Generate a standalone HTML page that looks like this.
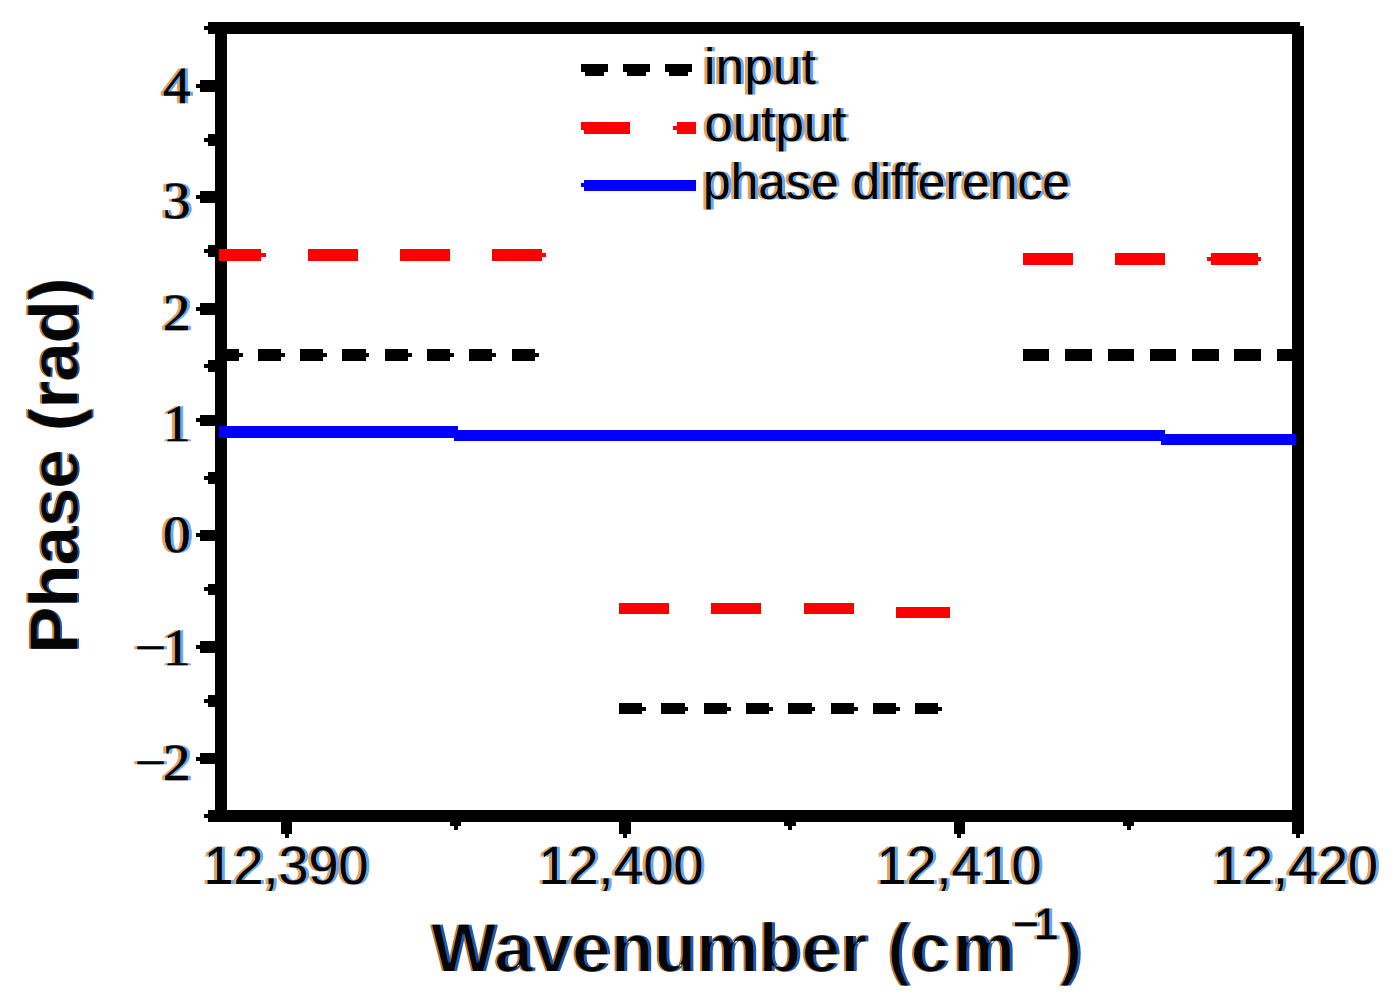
<!DOCTYPE html>
<html><head><meta charset="utf-8"><title>Phase plot</title>
<style>
html,body{margin:0;padding:0;background:#fff;}
body{width:1400px;height:1007px;overflow:hidden;position:relative;}
svg{position:absolute;left:0;top:0;display:block;}
.sans{font-family:"Liberation Sans",Arial,sans-serif;}
.serif{font-family:"Liberation Serif","Times New Roman",serif;}
</style></head><body>
<svg width="1400" height="1007" viewBox="0 0 1400 1007" shape-rendering="crispEdges">
<rect x="0" y="0" width="1400" height="1007" fill="#ffffff"/>
<defs>
<filter id="ct" x="-15%" y="-15%" width="130%" height="130%" color-interpolation-filters="sRGB">
<feFlood flood-color="#e9a050" result="o"/><feComposite in="o" in2="SourceAlpha" operator="in" result="oa"/><feOffset in="oa" dx="-3" dy="0" result="oo"/>
<feFlood flood-color="#5aa8ff" result="b"/><feComposite in="b" in2="SourceAlpha" operator="in" result="ba"/><feOffset in="ba" dx="3" dy="0" result="bo"/>
<feMerge><feMergeNode in="oo"/><feMergeNode in="bo"/><feMergeNode in="SourceGraphic"/></feMerge>
</filter>
<filter id="ctb" x="-15%" y="-15%" width="130%" height="130%" color-interpolation-filters="sRGB">
<feMorphology in="SourceGraphic" operator="erode" radius="1 1" result="e"/>
<feFlood flood-color="#c87818" result="o"/><feComposite in="o" in2="e" operator="in" result="oa"/><feOffset in="oa" dx="-2.5" dy="0" result="oo"/>
<feFlood flood-color="#1858b8" result="b"/><feComposite in="b" in2="e" operator="in" result="ba"/><feOffset in="ba" dx="2.5" dy="0" result="bo"/>
<feMerge><feMergeNode in="oo"/><feMergeNode in="bo"/><feMergeNode in="e"/></feMerge>
</filter>
<filter id="ctr" x="-15%" y="-15%" width="130%" height="130%" color-interpolation-filters="sRGB">
<feMorphology in="SourceGraphic" operator="erode" radius="1 0" result="e"/>
<feFlood flood-color="#c87818" result="o"/><feComposite in="o" in2="e" operator="in" result="oa"/><feOffset in="oa" dx="-2" dy="0" result="oo"/>
<feFlood flood-color="#1858b8" result="b"/><feComposite in="b" in2="e" operator="in" result="ba"/><feOffset in="ba" dx="2" dy="0" result="bo"/>
<feMerge><feMergeNode in="oo"/><feMergeNode in="bo"/><feMergeNode in="e"/></feMerge>
</filter>
</defs>
<g id="frame">
<rect x="208" y="22" width="1092" height="12" fill="#000"/>
<rect x="204" y="26" width="4" height="4" fill="#000"/>
<rect x="208" y="810" width="1096" height="12" fill="#000"/>
<rect x="204" y="814" width="4" height="4" fill="#000"/>
<rect x="215" y="22" width="12" height="800" fill="#000"/>
<rect x="1292" y="26" width="12" height="808" fill="#000"/>
<rect x="1296" y="834" width="4" height="3.5" fill="#000"/>
</g>
<g id="yticks">
<rect x="200" y="80" width="15" height="11.5" fill="#000"/>
<rect x="196" y="83.75" width="4" height="4" fill="#000"/>
<rect x="200" y="191.4" width="15" height="11.5" fill="#000"/>
<rect x="196" y="195.15" width="4" height="4" fill="#000"/>
<rect x="200" y="303.05" width="15" height="11.5" fill="#000"/>
<rect x="196" y="306.8" width="4" height="4" fill="#000"/>
<rect x="200" y="414.55" width="15" height="11.5" fill="#000"/>
<rect x="196" y="418.3" width="4" height="4" fill="#000"/>
<rect x="200" y="529.55" width="15" height="11.5" fill="#000"/>
<rect x="196" y="533.3" width="4" height="4" fill="#000"/>
<rect x="200" y="641.45" width="15" height="11.5" fill="#000"/>
<rect x="196" y="645.2" width="4" height="4" fill="#000"/>
<rect x="200" y="752.95" width="15" height="11.5" fill="#000"/>
<rect x="196" y="756.7" width="4" height="4" fill="#000"/>
<rect x="208" y="134.05" width="7" height="11.5" fill="#000"/>
<rect x="204" y="137.8" width="4" height="4" fill="#000"/>
<rect x="208" y="245.15" width="7" height="11.5" fill="#000"/>
<rect x="204" y="248.9" width="4" height="4" fill="#000"/>
<rect x="208" y="360.45" width="7" height="11.5" fill="#000"/>
<rect x="204" y="364.2" width="4" height="4" fill="#000"/>
<rect x="208" y="472.15" width="7" height="11.5" fill="#000"/>
<rect x="204" y="475.9" width="4" height="4" fill="#000"/>
<rect x="208" y="583.55" width="7" height="11.5" fill="#000"/>
<rect x="204" y="587.3" width="4" height="4" fill="#000"/>
<rect x="208" y="695.15" width="7" height="11.5" fill="#000"/>
<rect x="204" y="698.9" width="4" height="4" fill="#000"/>
</g>
<g id="xticks">
<rect x="280.7" y="822" width="11.6" height="12" fill="#000"/>
<rect x="284.5" y="834" width="4" height="3.5" fill="#000"/>
<rect x="619" y="822" width="11.6" height="12" fill="#000"/>
<rect x="622.8" y="834" width="4" height="3.5" fill="#000"/>
<rect x="953.5" y="822" width="11.6" height="12" fill="#000"/>
<rect x="957.3" y="834" width="4" height="3.5" fill="#000"/>
<rect x="449.7" y="822" width="11.6" height="4" fill="#000"/>
<rect x="453.5" y="826" width="4" height="4" fill="#000"/>
<rect x="784.2" y="822" width="11.6" height="4" fill="#000"/>
<rect x="788" y="826" width="4" height="4" fill="#000"/>
<rect x="1122.7" y="822" width="11.6" height="4" fill="#000"/>
<rect x="1126.5" y="826" width="4" height="4" fill="#000"/>
</g>
<g id="data">
<rect x="219" y="425.7" width="238.7" height="11.8" fill="#0000fe"/>
<rect x="453.7" y="430" width="711.3" height="11.4" fill="#0000fe"/>
<rect x="1161.4" y="433.7" width="134.3" height="11.4" fill="#0000fe"/>
<rect x="219" y="248.8" width="42.4" height="12" fill="#fe0000"/>
<rect x="307.7" y="248.8" width="50" height="12" fill="#fe0000"/>
<rect x="400" y="248.8" width="50" height="12" fill="#fe0000"/>
<rect x="492" y="248.8" width="50.3" height="12" fill="#fe0000"/>
<rect x="261.4" y="252.5" width="4.1" height="4" fill="#fe0000"/>
<rect x="542.3" y="252.5" width="4" height="4" fill="#fe0000"/>
<rect x="619.1" y="602.9" width="50" height="11.4" fill="#fe0000"/>
<rect x="711.4" y="602.9" width="50" height="11.4" fill="#fe0000"/>
<rect x="803.7" y="602.9" width="50" height="11.4" fill="#fe0000"/>
<rect x="895.7" y="606.6" width="54.3" height="11.4" fill="#fe0000"/>
<rect x="1022.9" y="252.9" width="50" height="12" fill="#fe0000"/>
<rect x="1115.1" y="252.9" width="50" height="12" fill="#fe0000"/>
<rect x="1211.4" y="252.9" width="46.3" height="12" fill="#fe0000"/>
<rect x="1207.1" y="256.5" width="4.3" height="4" fill="#fe0000"/>
<rect x="1257.7" y="256.5" width="3.7" height="4" fill="#fe0000"/>
<rect x="227" y="349.1" width="11.6" height="11.5" fill="#000"/>
<rect x="238.6" y="353" width="3.9" height="4" fill="#000"/>
<rect x="257.7" y="349.1" width="23.2" height="11.5" fill="#000"/>
<rect x="280.9" y="353" width="3.8" height="4" fill="#000"/>
<rect x="300" y="349.1" width="23.2" height="11.5" fill="#000"/>
<rect x="323.2" y="353" width="3.8" height="4" fill="#000"/>
<rect x="342.3" y="349.1" width="23.2" height="11.5" fill="#000"/>
<rect x="365.5" y="353" width="3.8" height="4" fill="#000"/>
<rect x="384.6" y="349.1" width="23.2" height="11.5" fill="#000"/>
<rect x="407.8" y="353" width="3.8" height="4" fill="#000"/>
<rect x="426.9" y="349.1" width="23.2" height="11.5" fill="#000"/>
<rect x="450.1" y="353" width="3.8" height="4" fill="#000"/>
<rect x="469.2" y="349.1" width="23.2" height="11.5" fill="#000"/>
<rect x="492.4" y="353" width="3.8" height="4" fill="#000"/>
<rect x="511.5" y="349.1" width="23.2" height="11.5" fill="#000"/>
<rect x="534.7" y="353" width="3.8" height="4" fill="#000"/>
<rect x="619.1" y="702.9" width="23.2" height="11.4" fill="#000"/>
<rect x="642.3" y="706.6" width="3.8" height="4" fill="#000"/>
<rect x="661.4" y="702.9" width="23.2" height="11.4" fill="#000"/>
<rect x="684.6" y="706.6" width="3.8" height="4" fill="#000"/>
<rect x="703.7" y="702.9" width="23.2" height="11.4" fill="#000"/>
<rect x="726.9" y="706.6" width="3.8" height="4" fill="#000"/>
<rect x="746" y="702.9" width="23.2" height="11.4" fill="#000"/>
<rect x="769.2" y="706.6" width="3.8" height="4" fill="#000"/>
<rect x="788.3" y="702.9" width="23.2" height="11.4" fill="#000"/>
<rect x="811.5" y="706.6" width="3.8" height="4" fill="#000"/>
<rect x="830.6" y="702.9" width="23.2" height="11.4" fill="#000"/>
<rect x="853.8" y="706.6" width="3.8" height="4" fill="#000"/>
<rect x="872.9" y="702.9" width="23.2" height="11.4" fill="#000"/>
<rect x="896.1" y="706.6" width="3.8" height="4" fill="#000"/>
<rect x="915.2" y="702.9" width="23.2" height="11.4" fill="#000"/>
<rect x="938.4" y="706.6" width="3.8" height="4" fill="#000"/>
<rect x="1022.9" y="349.1" width="26.5" height="11.5" fill="#000"/>
<rect x="1065.2" y="349.1" width="26.5" height="11.5" fill="#000"/>
<rect x="1107.5" y="349.1" width="26.5" height="11.5" fill="#000"/>
<rect x="1149.8" y="349.1" width="26.5" height="11.5" fill="#000"/>
<rect x="1192.1" y="349.1" width="26.5" height="11.5" fill="#000"/>
<rect x="1234.4" y="349.1" width="26.5" height="11.5" fill="#000"/>
<rect x="1276.6" y="349.1" width="15.4" height="11.5" fill="#000"/>
</g>
<g id="legend">
<rect x="580.6" y="64.4" width="27" height="7.6" fill="#000"/>
<rect x="584.6" y="72" width="19" height="4" fill="#000"/>
<rect x="622.6" y="64.4" width="27" height="7.6" fill="#000"/>
<rect x="626.6" y="72" width="19" height="4" fill="#000"/>
<rect x="665" y="64.4" width="27" height="7.6" fill="#000"/>
<rect x="669" y="72" width="19" height="4" fill="#000"/>
<rect x="580.6" y="122" width="49.8" height="8" fill="#fe0000"/>
<rect x="584.4" y="130" width="46" height="3.6" fill="#fe0000"/>
<rect x="677" y="122" width="19" height="11.6" fill="#fe0000"/>
<rect x="673" y="126" width="4" height="4" fill="#fe0000"/>
<rect x="584.4" y="179.6" width="111.6" height="11.4" fill="#0000fe"/>
<rect x="580.6" y="183" width="3.8" height="4" fill="#0000fe"/>
</g>
<g id="text" fill="#050505" shape-rendering="auto" text-rendering="geometricPrecision">
<g filter="url(#ct)"><text class="sans" x="704" y="83.7" font-size="51" textLength="112" lengthAdjust="spacing">input</text></g>
<g filter="url(#ct)"><text class="sans" x="704.5" y="141.4" font-size="51" textLength="142" lengthAdjust="spacing">output</text></g>
<g filter="url(#ct)"><text class="sans" x="703" y="198.6" font-size="51" textLength="367" lengthAdjust="spacingAndGlyphs">phase difference</text></g>
<g filter="url(#ct)"><text class="serif" transform="translate(190.5,102.9) scale(1.06,1)" x="0" y="0" font-size="52" text-anchor="end" stroke="#050505" stroke-width="0.6">4</text></g>
<g filter="url(#ct)"><text class="serif" transform="translate(190.5,218) scale(1.06,1)" x="0" y="0" font-size="52" text-anchor="end" stroke="#050505" stroke-width="0.6">3</text></g>
<g filter="url(#ct)"><text class="serif" transform="translate(190.5,330) scale(1.06,1)" x="0" y="0" font-size="52" text-anchor="end" stroke="#050505" stroke-width="0.6">2</text></g>
<g filter="url(#ct)"><text class="serif" transform="translate(190.5,441.4) scale(1.06,1)" x="0" y="0" font-size="52" text-anchor="end" stroke="#050505" stroke-width="0.6">1</text></g>
<g filter="url(#ct)"><text class="serif" transform="translate(190.5,552.2) scale(1.06,1)" x="0" y="0" font-size="52" text-anchor="end" stroke="#050505" stroke-width="0.6">0</text></g>
<g filter="url(#ct)"><text class="serif" transform="translate(190.5,664.7) scale(1.06,1)" x="0" y="0" font-size="52" text-anchor="end" stroke="#050505" stroke-width="0.6">−<tspan dx="-3">1</tspan></text></g>
<g filter="url(#ct)"><text class="serif" transform="translate(190.5,779.7) scale(1.06,1)" x="0" y="0" font-size="52" text-anchor="end" stroke="#050505" stroke-width="0.6">−<tspan dx="-3">2</tspan></text></g>
<g filter="url(#ct)"><text class="sans" x="286" y="883.6" font-size="54" text-anchor="middle">12,390</text></g>
<g filter="url(#ct)"><text class="sans" x="621" y="883.6" font-size="54" text-anchor="middle">12,400</text></g>
<g filter="url(#ct)"><text class="sans" x="959" y="883.6" font-size="54" text-anchor="middle">12,410</text></g>
<g filter="url(#ct)"><text class="sans" x="1295.5" y="883.6" font-size="54" text-anchor="middle">12,420</text></g>
<g filter="url(#ctb)"><text class="sans" x="430.5" y="971.5" font-size="70" font-weight="bold">Wavenumber (c<tspan dx="3.5">m</tspan><tspan x="1059">)</tspan></text></g>
<g filter="url(#ct)"><text class="sans" y="938.5" font-size="44" x="1013 1034" stroke="#050505" stroke-width="0.5">−1</text></g>
<g filter="url(#ctr)"><text class="sans" font-size="70" font-weight="bold" textLength="376" lengthAdjust="spacing" transform="translate(77.5,653.6) rotate(-90)">Phase (rad)</text></g>
</g>
</svg>
</body></html>
